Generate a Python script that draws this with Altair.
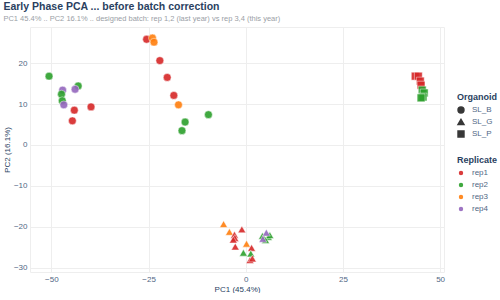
import altair as alt
import pandas as pd

# PCA scores per sample (before batch correction)
pc1 = [
    -50.6, -47.1, -47.4, -43.1, -43.9, -47.2, -46.8, -44.1, -39.8, -44.6,
    -25.5, -24.0, -23.6, -22.1, -20.2, -18.5, -17.3, -9.6, -15.6, -16.4,
    -5.7, -4.2, -1.0, -2.9, -2.8, -3.2, -2.7, 0.2, 1.5, -0.6, 1.3, 1.1, 1.7,
    4.3, 5.8, 5.1, 6.2, 5.3, 4.4,
    43.6, 44.4, 44.9, 45.1, 45.4, 45.9, 45.6, 45.1,
]
pc2 = [
    16.8, 13.4, 12.4, 14.4, 13.6, 10.8, 9.8, 8.5, 9.3, 5.9,
    25.8, 26.1, 25.1, 20.6, 16.5, 12.1, 9.8, 7.4, 5.6, 3.5,
    -19.3, -21.2, -20.6, -21.9, -22.7, -23.1, -24.8, -24.1, -25.1, -26.3, -26.5, -28.1, -27.7,
    -22.2, -22.4, -23.2, -22.0, -21.4, -22.9,
    16.8, 16.8, 15.6, 14.6, 13.4, 12.7, 11.7, 11.5,
]
organoid = ["SL_B"] * 20 + ["SL_G"] * 19 + ["SL_P"] * 8
replicate = [
    "rep2", "rep4", "rep2", "rep2", "rep4", "rep2", "rep4", "rep1", "rep1", "rep1",
    "rep1", "rep3", "rep3", "rep1", "rep1", "rep1", "rep3", "rep2", "rep2", "rep2",
    "rep3", "rep3", "rep1", "rep1", "rep1", "rep1", "rep1", "rep3", "rep1", "rep2", "rep2", "rep1", "rep1",
    "rep2", "rep2", "rep2", "rep2", "rep4", "rep4",
    "rep1", "rep1", "rep1", "rep1", "rep2", "rep2", "rep2", "rep2",
]

organoid_levels = ["SL_B", "SL_G", "SL_P"]
replicate_levels = ["rep1", "rep2", "rep3", "rep4"]
replicate_colors = ["#d62728", "#2ca02c", "#ff7f0e", "#9467bd"]

df = pd.DataFrame({"PC1": pc1, "PC2": pc2, "Organoid": organoid, "Replicate": replicate})

font = "Liberation Sans"
text_dark = "#2a3f5f"
text_grey = "#506784"

chart = (
    alt.Chart(df)
    .mark_point(filled=True, size=62, opacity=0.9, stroke="white", strokeWidth=0.5)
    .encode(
        x=alt.X(
            "PC1:Q",
            title="PC1 (45.4%)",
            scale=alt.Scale(domain=[-55.5, 51], nice=False, zero=False),
            axis=alt.Axis(values=[-50, -25, 0, 25, 50]),
        ),
        y=alt.Y(
            "PC2:Q",
            title="PC2 (16.1%)",
            scale=alt.Scale(domain=[-31, 28.8], nice=False, zero=False),
            axis=alt.Axis(values=[-30, -20, -10, 0, 10, 20]),
        ),
        shape=alt.Shape(
            "Organoid:N",
            scale=alt.Scale(domain=organoid_levels, range=["circle", "triangle-up", "square"]),
            legend=alt.Legend(
                title="Organoid", orient="none", legendX=427, legendY=66,
                symbolFillColor="#222222", symbolStrokeColor="#222222", symbolSize=35,
            ),
        ),
        color=alt.Color(
            "Replicate:N",
            scale=alt.Scale(domain=replicate_levels, range=replicate_colors),
            legend=alt.Legend(
                title="Replicate", orient="none", legendX=427, legendY=129,
                symbolType="circle", symbolSize=35,
            ),
        ),
    )
    .properties(
        width=414,
        height=245,
        title=alt.TitleParams(
            text="Early Phase PCA ... before batch correction",
            subtitle="PC1 45.4% .. PC2 16.1% .. designed batch: rep 1,2 (last year) vs rep 3,4 (this year)",
            anchor="start",
            frame="bounds",
            font=font,
            fontSize=10.5,
            fontWeight="bold",
            color=text_dark,
            subtitleFont=font,
            subtitleFontSize=7.5,
            subtitleColor="#9aa0a6",
            subtitlePadding=2,
            offset=5,
        ),
    )
    .configure(padding={"left": 3, "top": 2, "right": 0, "bottom": 0})
    .configure_view(stroke="#eeeeee")
    .configure_axis(
        grid=True,
        gridColor="#eeeeee",
        domain=False,
        ticks=False,
        labelFont=font,
        labelFontSize=8,
        labelColor=text_grey,
        titleFont=font,
        titleFontSize=8,
        titleFontWeight="normal",
        titleColor=text_dark,
        labelPadding=3,
        titlePadding=2,
    )
    .configure_legend(
        titleFont=font,
        titleFontSize=9,
        titleFontWeight="bold",
        titleColor=text_dark,
        titlePadding=4,
        labelFont=font,
        labelFontSize=8,
        labelColor=text_grey,
        labelOffset=7,
        rowPadding=0,
        padding=0,
    )
)

chart.save("out.html", embed_options={"renderer": "svg", "actions": False})
